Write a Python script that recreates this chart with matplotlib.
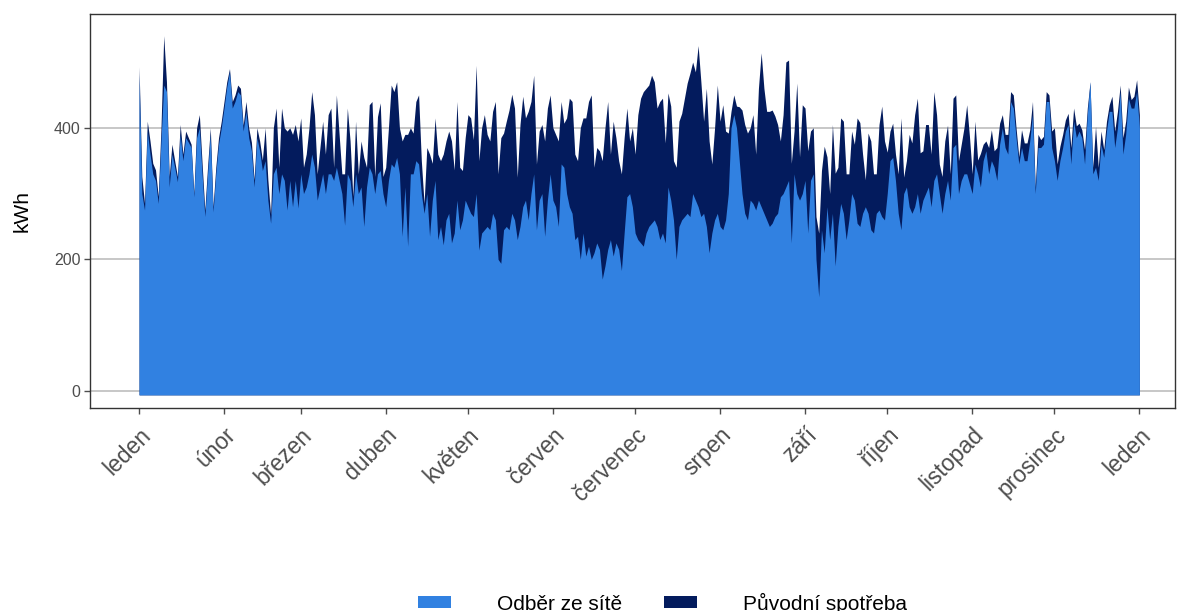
import numpy as np
import matplotlib
matplotlib.use("Agg")
import matplotlib.pyplot as plt
from matplotlib.patches import Patch

plt.rcParams['font.family'] = ['Liberation Sans', 'DejaVu Sans']

months = ["leden", "únor", "březen", "duben", "květen", "červen", "červenec",
          "srpen", "září", "říjen", "listopad", "prosinec", "leden"]
month_start_day = [0, 31, 59, 90, 120, 151, 181, 212, 243, 273, 304, 334, 365]

puvodni = [
    493, 326, 285, 410, 380, 346, 336, 296, 400, 540, 470, 326, 375, 350, 326, 405, 360, 395, 385, 375,
    300, 400, 420, 346, 275, 341, 400, 280, 340, 385, 410, 440, 470, 490, 440, 450, 465, 460, 404, 440,
    400, 378, 321, 400, 380, 351, 400, 321, 268, 400, 430, 340, 430, 400, 395, 400, 390, 405, 380, 415,
    340, 360, 400, 455, 420, 330, 370, 410, 360, 420, 430, 340, 450, 390, 330, 330, 430, 380, 296, 410,
    330, 380, 355, 340, 435, 440, 326, 417, 438, 326, 340, 400, 465, 455, 470, 400, 380, 390, 390, 400,
    392, 440, 450, 350, 285, 370, 360, 346, 415, 360, 350, 360, 380, 395, 380, 336, 440, 340, 335, 385,
    420, 415, 382, 495, 350, 400, 420, 390, 380, 425, 440, 330, 385, 392, 410, 427, 451, 430, 325, 405,
    448, 415, 425, 440, 480, 345, 395, 405, 380, 430, 450, 400, 390, 380, 440, 407, 415, 445, 440, 360,
    350, 400, 415, 415, 440, 450, 340, 370, 365, 350, 400, 440, 360, 410, 385, 350, 330, 385, 430, 380,
    400, 360, 420, 445, 455, 460, 465, 480, 470, 430, 440, 445, 377, 453, 433, 350, 340, 410, 422, 445,
    468, 483, 500, 485, 525, 470, 410, 460, 380, 345, 400, 465, 410, 435, 395, 392, 425, 450, 433, 432,
    427, 405, 392, 400, 420, 360, 460, 514, 460, 425, 425, 427, 418, 405, 380, 420, 500, 503, 346, 395,
    468, 356, 435, 430, 365, 395, 400, 265, 240, 335, 372, 356, 300, 405, 331, 340, 415, 410, 330, 330,
    395, 375, 415, 408, 360, 321, 392, 380, 330, 330, 405, 433, 380, 363, 395, 407, 360, 330, 415, 325,
    350, 390, 377, 420, 445, 362, 365, 405, 405, 360, 455, 420, 345, 326, 380, 404, 330, 445, 450, 350,
    375, 400, 435, 387, 330, 410, 351, 361, 375, 380, 370, 397, 365, 370, 407, 420, 390, 390, 455, 450,
    400, 356, 397, 377, 377, 397, 440, 310, 390, 382, 387, 455, 450, 395, 400, 345, 372, 390, 412, 422,
    370, 430, 403, 407, 397, 367, 430, 470, 340, 402, 340, 395, 367, 410, 435, 448, 395, 425, 465, 385,
    410, 462, 443, 448, 473, 420,
]

odber = [
    480, 300, 275, 395, 360, 330, 320, 285, 380, 465, 455, 310, 360, 340, 318, 390, 350, 385, 378, 370,
    295, 385, 400, 330, 265, 330, 390, 272, 330, 375, 400, 430, 462, 485, 430, 440, 455, 450, 395, 425,
    385, 365, 310, 385, 365, 335, 350, 290, 255, 330, 340, 300, 330, 320, 275, 320, 280, 320, 278, 330,
    300, 310, 330, 360, 340, 290, 310, 330, 300, 330, 330, 320, 340, 320, 300, 252, 330, 320, 280, 330,
    300, 310, 250, 310, 340, 330, 300, 330, 335, 300, 280, 320, 345, 340, 355, 330, 235, 310, 220, 330,
    330, 350, 345, 300, 270, 300, 235, 290, 320, 230, 250, 222, 260, 270, 225, 240, 290, 245, 260, 290,
    280, 270, 265, 300, 214, 240, 245, 250, 245, 270, 260, 200, 194, 245, 250, 245, 270, 260, 230, 250,
    280, 290, 260, 300, 330, 245, 290, 300, 235, 290, 330, 290, 280, 250, 345, 340, 300, 280, 270, 230,
    235, 200, 240, 205, 220, 200, 210, 225, 215, 170, 190, 215, 230, 205, 225, 215, 183, 240, 295, 300,
    280, 240, 230, 225, 220, 240, 250, 255, 260, 250, 230, 240, 225, 310, 290, 260, 200, 250, 260, 265,
    270, 265, 300, 290, 280, 265, 270, 250, 210, 240, 260, 270, 250, 245, 260, 300, 400, 420, 400, 350,
    300, 270, 260, 290, 285, 275, 290, 280, 270, 260, 250, 255, 265, 270, 295, 300, 310, 320, 225, 330,
    300, 290, 300, 320, 240, 320, 330, 200, 143, 245, 210, 280, 230, 270, 190, 250, 285, 270, 230, 260,
    300, 290, 255, 250, 270, 280, 270, 245, 240, 270, 275, 265, 260, 300, 350, 355, 320, 270, 245, 300,
    310, 280, 270, 280, 300, 270, 290, 300, 310, 280, 320, 330, 300, 270, 300, 320, 290, 370, 375, 300,
    320, 330, 330, 315, 300, 345, 330, 310, 350, 365, 330, 350, 340, 320, 375, 400, 370, 360, 440, 430,
    385, 345, 370, 350, 350, 380, 420, 300, 370, 370, 375, 440, 440, 370, 350, 320, 350, 370, 395, 405,
    345, 410, 385, 395, 385, 345, 420, 470, 330, 340, 320, 375, 355, 395, 425, 425, 370, 400, 455, 360,
    390, 445, 430, 430, 455, 400,
]

puvodni = np.array(puvodni, dtype=float)
odber = np.minimum(np.array(odber, dtype=float), puvodni)
days = np.arange(len(puvodni))

c_light = "#3181E1"
c_dark = "#031B5D"

fig = plt.figure(figsize=(11.77, 6.11), dpi=100)
ax = fig.add_axes([90/1177, 1-408/611, (1175-90)/1177, (408-14)/611])

base = -6
ax.fill_between(days, base, puvodni, color=c_dark, linewidth=0)
ax.fill_between(days, base, odber, color=c_light, linewidth=0)

ax.set_xlim(-17.9, 378)
ax.set_ylim(-26, 573)
ax.set_yticks([0, 200, 400])
ax.set_xticks(month_start_day)
ax.set_xticklabels(months, rotation=45, ha='right', va='top', rotation_mode='anchor',
                   fontsize=16.5, color='#4d4d4d')
ax.tick_params(axis='y', labelsize=11.5, colors='#4d4d4d', length=4, width=1, pad=3)
ax.tick_params(axis='x', length=4, width=1, colors='#4d4d4d', pad=7)
ax.grid(axis='y', color='#bebebe', linewidth=1.2)
ax.set_axisbelow(True)
for s in ax.spines.values():
    s.set_color('#333333')
    s.set_linewidth(1.0)
ax.set_ylabel("kWh", fontsize=15, color='black', labelpad=16)

handles = [Patch(facecolor=c_light, edgecolor='none', label="Odběr ze sítě"),
           Patch(facecolor=c_dark, edgecolor='none', label="Původní spotřeba")]
fig.legend(handles=handles, loc='center', bbox_to_anchor=(0.5627, 1-603/611), ncol=2,
           frameon=False, fontsize=15, handlelength=1.6, handleheight=0.5,
           handletextpad=2.2, columnspacing=2.0)

fig.savefig("out.png", dpi=100)
